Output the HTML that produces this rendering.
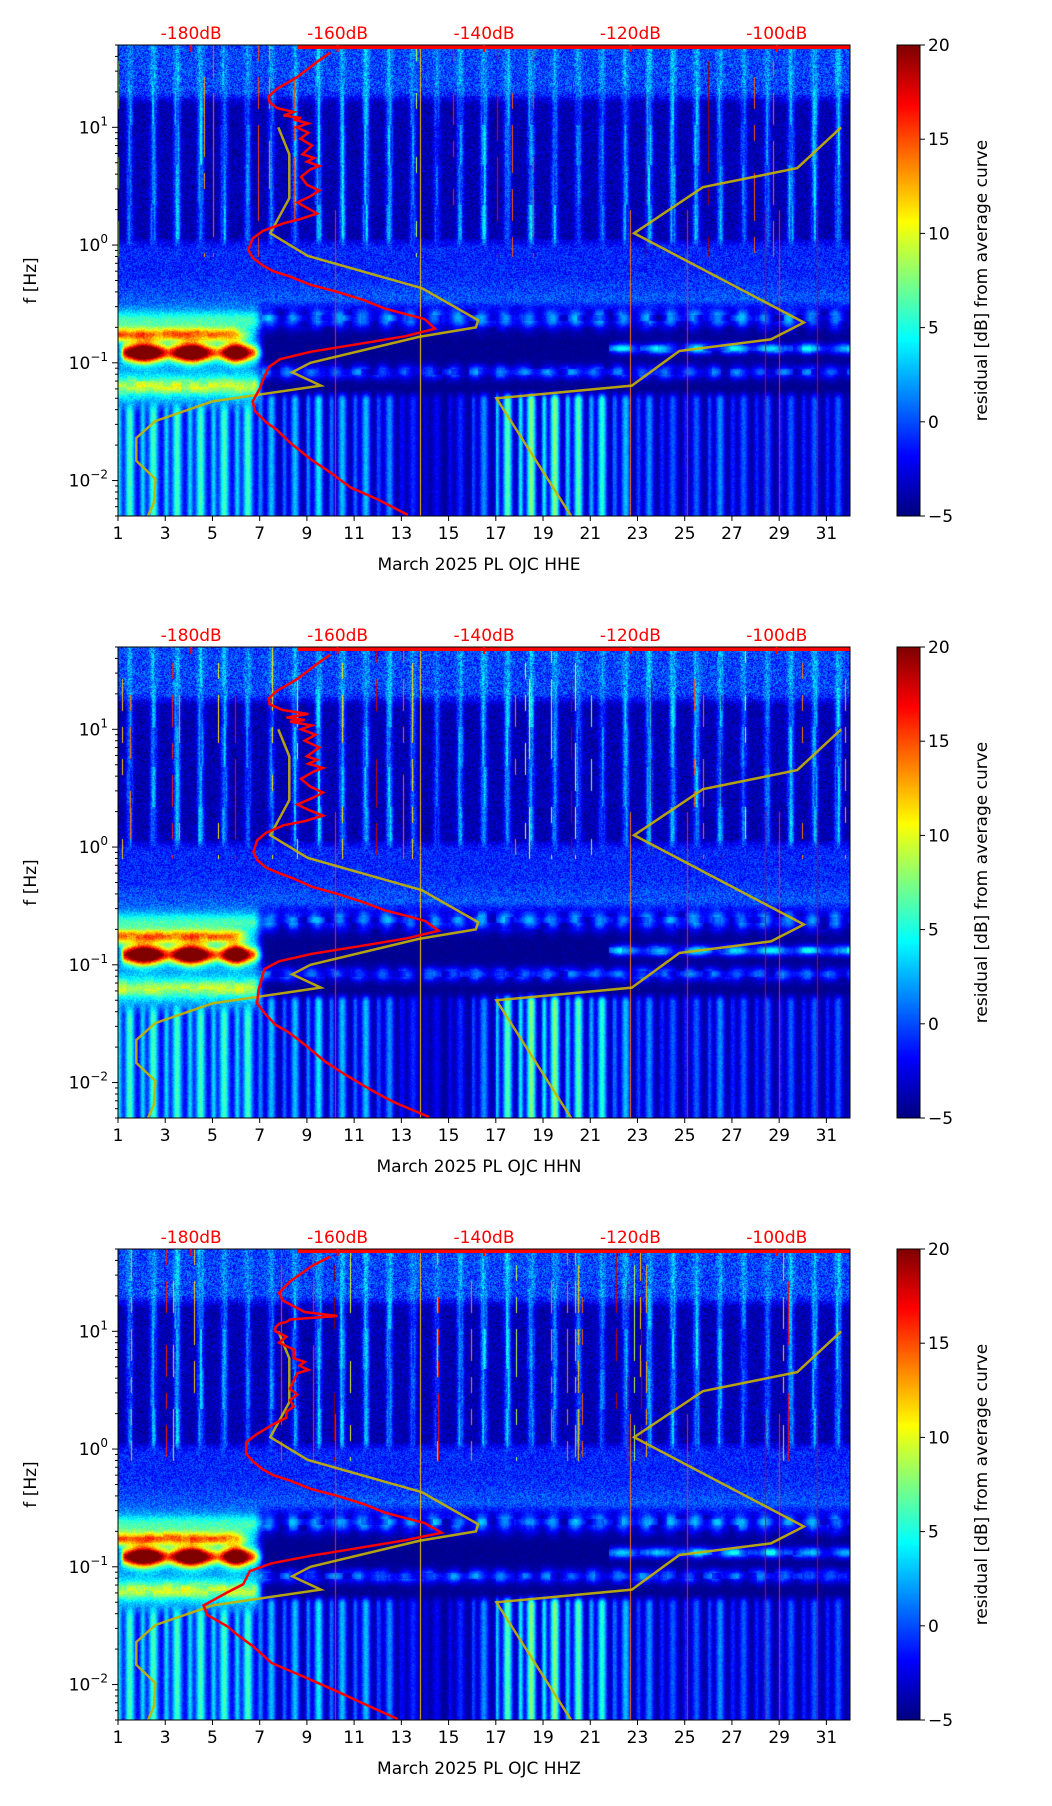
<!DOCTYPE html>
<html><head><meta charset="utf-8"><style>
body{margin:0;background:#fff;width:1052px;height:1806px;position:relative;overflow:hidden;font-family:"DejaVu Sans","Liberation Sans",sans-serif}
canvas{position:absolute}
svg{position:absolute;left:0;top:0}
</style></head><body>
<canvas id="c0" width="732" height="471" style="left:118px;top:45px"></canvas>
<canvas id="c1" width="732" height="471" style="left:118px;top:647px"></canvas>
<canvas id="c2" width="732" height="471" style="left:118px;top:1249px"></canvas>
<canvas id="cb0" width="23" height="471" style="left:897px;top:45px"></canvas>
<canvas id="cb1" width="23" height="471" style="left:897px;top:647px"></canvas>
<canvas id="cb2" width="23" height="471" style="left:897px;top:1249px"></canvas>
<svg id="ov" width="1052" height="1806"></svg>
<script>
const components = ["HHE","HHN","HHZ"];
const dayTicks = [1,3,5,7,9,11,13,15,17,19,21,23,25,27,29,31];
const dbTicks = [-180,-160,-140,-120,-100];
const cbTicks = [20,15,10,5,0,-5];
const yDecades = [10,1,0.1,0.01];
const yDecadeExp = ["1","0","\u22121","\u22122"];
// daily stripe strengths (high freq / low freq), day 1..31
const hiStripe = [5,6,7,7,6,5,5,6,7,7,7,7,5,4,6,7,7,7,6,5,5,6,7,7,7,6,5,5,7,7,7];
const loStripe = [7,7,7,7,7,7,6,6,7,6,6,5,3,2,3,5,9,10,10,9,8,6,5,4,4,5,4,4,4,4,4];
const spikeDays = [10.2,13.8,22.7,25.1,28.4,29.0,30.6];
const spikeVals = [16,12,14,16,18,16,18];
// noise model curves (dB vs Hz)
const nlnmF = [10,5.9,2.5,1.26,0.81,0.43,0.23,0.2,0.166,0.1,0.083,0.064,0.047,0.032,0.023,0.0147,0.0103,0.0065,0.005];
const nlnmDb = [-168.1,-166.6,-166.6,-169.2,-164.1,-148.5,-140.8,-141.1,-148.9,-163.7,-166.2,-162.3,-177.1,-184.9,-187.5,-187.5,-184.9,-185.1,-185.9];
const nhnmF = [10,4.5,3.1,1.26,0.22,0.158,0.126,0.064,0.05,0.005];
const nhnmDb = [-91.2,-97.2,-110.1,-119.5,-96.3,-100.8,-113.3,-119.8,-138.3,-128.1];
// station median PSD curves
const psdF = [43.2,35.9,26.5,21.2,18.3,16.3,14.6,13.5,12.6,12.0,11.6,10.8,10.0,9.0,8.0,7.0,5.9,5.5,5.1,4.7,4.4,3.8,3.25,2.9,2.6,2.3,2.07,1.85,1.66,1.53,1.32,1.14,0.91,0.78,0.67,0.60,0.54,0.46,0.40,0.34,0.29,0.26,0.235,0.195,0.168,0.144,0.124,0.107,0.092,0.071,0.061,0.047,0.039,0.031,0.027,0.021,0.0152,0.0117,0.0087,0.0069,0.0051];
const psdDbE = [-161.0,-162.8,-165.6,-168.3,-169.4,-169.3,-168.3,-166.0,-167.4,-165.0,-166.0,-164.0,-165.6,-164.0,-165.1,-163.5,-164.8,-163.2,-164.2,-162.5,-163.7,-165.0,-164.2,-162.5,-163.7,-165.5,-164.2,-162.8,-165.1,-167.4,-170.2,-171.6,-172.2,-171.6,-170.2,-168.8,-166.5,-163.7,-160.0,-156.4,-153.6,-150.8,-148.1,-146.7,-150.8,-157.3,-163.7,-167.9,-169.4,-170.2,-170.6,-171.6,-171.3,-169.7,-168.3,-166.5,-163.7,-161.0,-158.2,-154.5,-150.4];
const psdDbN = [-161.0,-162.8,-165.6,-168.3,-169.4,-169.3,-167.5,-164.0,-167.0,-164.5,-166.5,-163.5,-165.0,-163.0,-164.5,-162.5,-164.2,-162.8,-164.0,-162.0,-163.2,-165.0,-163.7,-162.0,-163.5,-165.5,-164.0,-162.0,-164.5,-167.4,-169.8,-171.0,-171.5,-171.0,-169.8,-168.0,-166.0,-163.5,-160.0,-156.5,-153.5,-150.5,-148.0,-146.2,-150.5,-157.0,-163.5,-168.0,-170.0,-170.5,-170.8,-171.0,-170.0,-168.5,-166.8,-164.5,-161.8,-159.0,-155.5,-152.5,-147.5];
const psdDbZ = [-161.0,-163.5,-166.5,-168.0,-167.5,-166.0,-164.5,-160.0,-166.5,-167.0,-168.0,-168.5,-168.5,-167.0,-168.0,-166.0,-166.0,-164.5,-165.2,-164.0,-165.5,-166.0,-166.5,-165.5,-166.5,-166.0,-167.0,-167.0,-168.5,-169.5,-171.2,-172.5,-172.5,-171.5,-170.2,-168.8,-166.5,-163.7,-160.0,-156.4,-153.6,-150.8,-148.1,-145.8,-150.8,-157.3,-163.7,-169.0,-172.0,-172.9,-175.0,-178.3,-177.8,-175.0,-173.9,-171.5,-169.0,-164.7,-160.0,-156.5,-151.8];
const psdSets = [psdDbE, psdDbN, psdDbZ];

const L=118, W=732, H=471, tops=[45,647,1249];
const FMAX=50, FMIN=0.005, DB0=-190, DB1=-90, D0=1, D1=32;
const lgMax=Math.log10(FMAX), lgMin=Math.log10(FMIN);
function xDay(d){return L+(d-D0)/(D1-D0)*W;}
function yF(f,t){return t+(lgMax-Math.log10(f))/(lgMax-lgMin)*H;}
function xDb(db){return L+(db-DB0)/(DB1-DB0)*W;}

function jet(t){t=Math.max(0,Math.min(1,t));const c=x=>Math.max(0,Math.min(1,1.5-Math.abs(x)));return [c(4*t-3)*255,c(4*t-2)*255,c(4*t-1)*255];}
function hash(a,b,s){let h=(a*374761393+b*668265263+s*982451653)|0;h=(h^(h>>>13))*1274126177|0;h=h^(h>>>16);return ((h>>>0)%10000)/10000;}
function sm(x,a,b){const t=Math.max(0,Math.min(1,(x-a)/(b-a)));return t*t*(3-2*t);}
function bump(x,c,w){const d=(x-c)/w;return Math.exp(-d*d);}
function stripe(day,w){const fr=day-Math.floor(day);return Math.max(bump(fr,0.5,w),0);}

function val(day,lf,i,j,s){
  const di=Math.min(30,Math.max(0,Math.floor(day)-1));
  const n=hash(i,j,s)-0.5;
  const colv=hash(i>>1,Math.floor(j/40),s)-0.5;
  const blobv=hash(Math.floor(i/9),Math.floor(j/6),s+7)-0.5;
  const st=stripe(day,0.14)*(0.8+colv*0.6);
  const vTop=-0.3+n*4.5+st*hiStripe[di]*0.5;
  const vMid=-3.8+n*3+st*hiStripe[di]*1.1;
  const vMicro=-1+n*3.5+sm(-lf,0.2,0.55)*1.5;
  let v;
  if(lf>0.05) v=vMid+(vTop-vMid)*sm(lf,1.18,1.32);
  else v=vMicro+(vMid-vMicro)*sm(lf,-0.05,0.1);
  if(lf<-0.45){
    const early=1-sm(day,6.7,7.3);
    let late=-4.8+Math.max(0,n)*2;
    late+=bump(lf,-0.62,0.09)*(1.5+5*stripe(day+0.1,0.3)+blobv*3);
    if(day>21.8) late+=bump(lf,-0.88,0.045)*(6+2.5*Math.sin(day*4)+blobv*3);
    late+=bump(lf,-1.08,0.06)*(3.5*stripe(day+0.3,0.3)+2+blobv*3);
    const low=-4.6+Math.min(1,stripe(day,0.2)+0.7*stripe(day+0.45,0.12))*loStripe[di]*1.25+n*1.5;
    late=late+(low-late)*sm(-lf,1.22,1.32);
    // days 1-7 structure
    let e=2+n*2.5;
    e+=bump(lf,-0.76,0.06)*(12+blobv*3)*(1-sm(day,5.6,7));
    e+=bump(lf,-0.64,0.07)*4;
    e+=bump(lf,-1.2,0.08)*(7+blobv*3);
    const blob=Math.max(bump(day,2.1,0.8),bump(day,4.1,0.75),bump(day,6.0,0.55)*0.95);
    e+=bump(lf,-0.915,0.06+0.02*blob)*(10+18*blob)*sm(day,1.05,1.3);
    if(lf<-1.3) e=e+(low+2-e)*sm(-lf,1.3,1.45);
    v=v+((early*e+(1-early)*late)-v)*sm(-lf,0.45,0.6);
  }
  for(let k=0;k<spikeDays.length;k++){
    const sx=Math.round(xDay(spikeDays[k])-L);
    if(i===sx && (lf<0.3 || k==1)) v=spikeVals[k];
  }
  if(lf>-0.1 && hash(i,3,s)>0.975 && hash(i,j>>4,s)>0.5) v=Math.max(v,8+hash(i,9,s)*12);
  return v;
}
for(let p=0;p<3;p++){
  const cv=document.getElementById('c'+p),ctx=cv.getContext('2d');
  const img=ctx.createImageData(W,H);
  for(let j=0;j<H;j++){
    const lf=lgMax-(j+0.5)/H*(lgMax-lgMin);
    for(let i=0;i<W;i++){
      const day=D0+(i+0.5)/W*(D1-D0);
      const v=val(day,lf,i,j,p+1);
      const c=jet((v+5)/25);
      const o=(j*W+i)*4;img.data[o]=c[0];img.data[o+1]=c[1];img.data[o+2]=c[2];img.data[o+3]=255;
    }
  }
  ctx.putImageData(img,0,0);
  const cb=document.getElementById('cb'+p),cx=cb.getContext('2d');
  for(let j=0;j<H;j++){const c=jet(1-j/(H-1));cx.fillStyle=`rgb(${c[0]|0},${c[1]|0},${c[2]|0})`;cx.fillRect(0,j,23,1);}
}

const NS="http://www.w3.org/2000/svg", ov=document.getElementById('ov');
function mk(tag,attrs,parent){const e=document.createElementNS(NS,tag);for(const k in attrs)e.setAttribute(k,attrs[k]);(parent||ov).appendChild(e);return e;}
function poly(fs,dbs,t){return fs.map((f,k)=>xDb(dbs[k]).toFixed(1)+','+yF(f,t).toFixed(1)).join(' ');}
for(let p=0;p<3;p++){
  const t=tops[p], b=t+H;
  const g=mk('g',{});
  
  
  const cp=mk('clipPath',{id:'clip'+p},g);mk('rect',{x:L,y:t,width:W,height:H},cp);
  const lines=mk('g',{'clip-path':'url(#clip'+p+')'},g);
  const n1=mk('polyline',{points:poly(nlnmF,nlnmDb,t),fill:'none',stroke:'#c8b400',opacity:0.9,'stroke-width':2.5},lines);
  
  
  const n2=mk('polyline',{points:poly(nhnmF,nhnmDb,t),fill:'none',stroke:'#c8b400',opacity:0.9,'stroke-width':2.5},lines);
  
  
  const ps=mk('polyline',{points:poly(psdF,psdSets[p],t),fill:'none',stroke:'#ff0000','stroke-width':2.5},lines);
  
  
  const tl=mk('line',{x1:xDb(-165.5),x2:L+W,y1:t+2,y2:t+2,stroke:'#ff0000','stroke-width':4},lines);
  
  
  mk('rect',{x:L,y:t,width:W,height:H,fill:'none',stroke:'#000','stroke-width':1},g);
  dayTicks.forEach(d=>{const x=xDay(d);mk('line',{x1:x,x2:x,y1:b,y2:b+5,stroke:'#000'},g);
    const tx=mk('text',{x:x,y:b+23,'text-anchor':'middle','font-size':17},g);tx.textContent=d;
    
    });
  const xl=mk('text',{x:L+W/2-5,y:b+54,'text-anchor':'middle','font-size':17},g);xl.textContent='March 2025 PL OJC  '+components[p];
  
  
  yDecades.forEach((f,k)=>{const y=yF(f,t);mk('line',{x1:L-6,x2:L,y1:y,y2:y,stroke:'#000'},g);
    const tx=mk('text',{x:L-10,y:y+6,'text-anchor':'end','font-size':17},g);
    tx.innerHTML='10<tspan dy="-8" font-size="12">'+yDecadeExp[k]+'</tspan>';
    
    });
  for(let e=-3;e<=1;e++)for(let m=2;m<=9;m++){const f=m*Math.pow(10,e);if(f<FMIN||f>FMAX)continue;const y=yF(f,t);mk('line',{x1:L-3,x2:L,y1:y,y2:y,stroke:'#000'},g);}
  const yl=mk('text',{x:0,y:0,transform:`translate(36,${t+H/2}) rotate(-90)`,'text-anchor':'middle','font-size':17},g);yl.textContent='f [Hz]';
  
  
  dbTicks.forEach(db=>{const x=xDb(db);mk('line',{x1:x,x2:x,y1:t,y2:t+7,stroke:'#ff0000','stroke-width':2},g);
    const tx=mk('text',{x:x,y:t-6,'text-anchor':'middle','font-size':17,fill:'#ff0000'},g);tx.textContent=db+'dB';
    
    });
  mk('rect',{x:897,y:t,width:23,height:H,fill:'none',stroke:'#000'},g);
  cbTicks.forEach(v=>{const y=t+(20-v)/25*H;mk('line',{x1:920,x2:925,y1:y,y2:y,stroke:'#000'},g);
    const tx=mk('text',{x:928,y:y+6,'font-size':17},g);tx.textContent=v<0?'\u2212'+(-v):v;
    
    });
  const cl=mk('text',{x:0,y:0,transform:`translate(987,${t+H/2}) rotate(-90)`,'text-anchor':'middle','font-size':17},g);cl.textContent='residual [dB] from average curve';
  
  
}
</script>
</body></html>
